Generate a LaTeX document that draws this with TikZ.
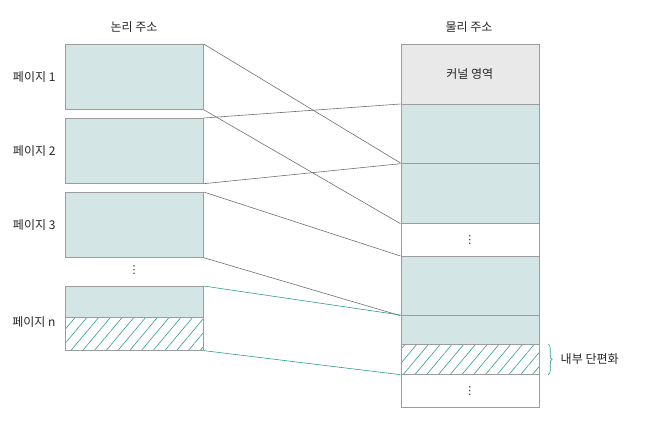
\documentclass[tikz,border=0pt]{standalone}
\usepackage{fontspec}
\setmainfont{Noto Sans CJK KR}
\newfontfamily\symfont{DejaVu Sans}
\usepackage{tikz}
\usetikzlibrary{calc, patterns.meta, decorations.pathreplacing}

\definecolor{pagefill}{HTML}{D3E5E4}
\definecolor{kernfill}{HTML}{E9E9E9}
\definecolor{boxline}{HTML}{9C9C9C}
\definecolor{mapline}{HTML}{707070}
\definecolor{tealline}{HTML}{2E9C94}

\newcommand{\vdts}{{\symfont\fontsize{11}{11}\selectfont ⋮}}

\begin{document}
\begin{tikzpicture}[x=1pt, y=-1pt,
    every node/.style={font=\fontsize{12}{14}\selectfont, text=black!85},
    blk/.style={draw=boxline, line width=0.7pt, inner sep=0pt,
        minimum width=138pt, anchor=north west},
    hatched/.style={blk, pattern={Lines[angle=50, distance=9pt, line width=0.6pt]},
        pattern color=tealline}]

    \useasboundingbox (0,0) rectangle (656,421);

    % Titulos
    \node (tlog) at (134,27) {논리 주소};
    \node (tphy) at (469,27) {물리 주소};

    % Memoria logica
    \foreach \nm/\yy/\txt in {p1/44/1, p2/118/2, p3/192/3}{
        \node[blk, fill=pagefill, minimum height=65pt] (\nm) at (65,\yy) {};
        \node[anchor=east] (l\nm) at ([xshift=-6pt]\nm.west) {페이지 \txt};
    }
    \node (ldots) at (134,270) {\vdts};
    \node[blk, fill=pagefill, minimum height=31pt] (pnA) at (65,286) {};
    \node[hatched, minimum height=33pt] (pnB) at (65,317) {};
    \node[anchor=east] (lpn) at (59,322) {페이지 n};

    % Memoria fisica
    \node[blk, fill=kernfill, minimum height=60pt] (kern) at (400.5,44) {커널 영역};
    \node[blk, fill=pagefill, minimum height=59pt] (fA) at (400.5,104) {};
    \node[blk, fill=pagefill, minimum height=60pt] (fB) at (400.5,163) {};
    \node[blk, fill=white, minimum height=33pt] (fd1) at (400.5,223) {\vdts};
    \node[blk, fill=pagefill, minimum height=59pt] (fC) at (400.5,256) {};
    \node[blk, fill=pagefill, minimum height=29pt] (fD) at (400.5,315) {};
    \node[hatched, minimum height=30pt] (fH) at (400.5,344) {};
    \node[blk, fill=white, minimum height=33pt] (fd2) at (400.5,374) {\vdts};

    % Correspondencias
    \draw[mapline, line width=0.6pt] (p1.north east) -- (fB.north west);
    \draw[mapline, line width=0.6pt] (p1.south east) -- (fB.south west);
    \draw[mapline, line width=0.6pt] (p2.north east) -- (fA.north west);
    \draw[mapline, line width=0.6pt] (p2.south east) -- (fA.south west);
    \draw[mapline, line width=0.6pt] (p3.north east) -- (fC.north west);
    \draw[mapline, line width=0.6pt] (p3.south east) -- (fC.south west);
    \draw[tealline, line width=0.6pt] (pnA.north east) -- (fD.north west);
    \draw[tealline, line width=0.6pt] (pnB.south east) -- (fH.south west);

    % Fragmentacion interna
    \coordinate (bt) at ([xshift=9pt]fH.north east);
    \coordinate (bb) at ([xshift=9pt]fH.south east);
    \draw[tealline, line width=0.6pt, decorate,
        decoration={brace, amplitude=4pt}] (bt) -- (bb);
    \node[anchor=west] (lfrag) at ([xshift=9pt]$(bt)!0.5!(bb)$) {내부 단편화};

\end{tikzpicture}
\end{document}
